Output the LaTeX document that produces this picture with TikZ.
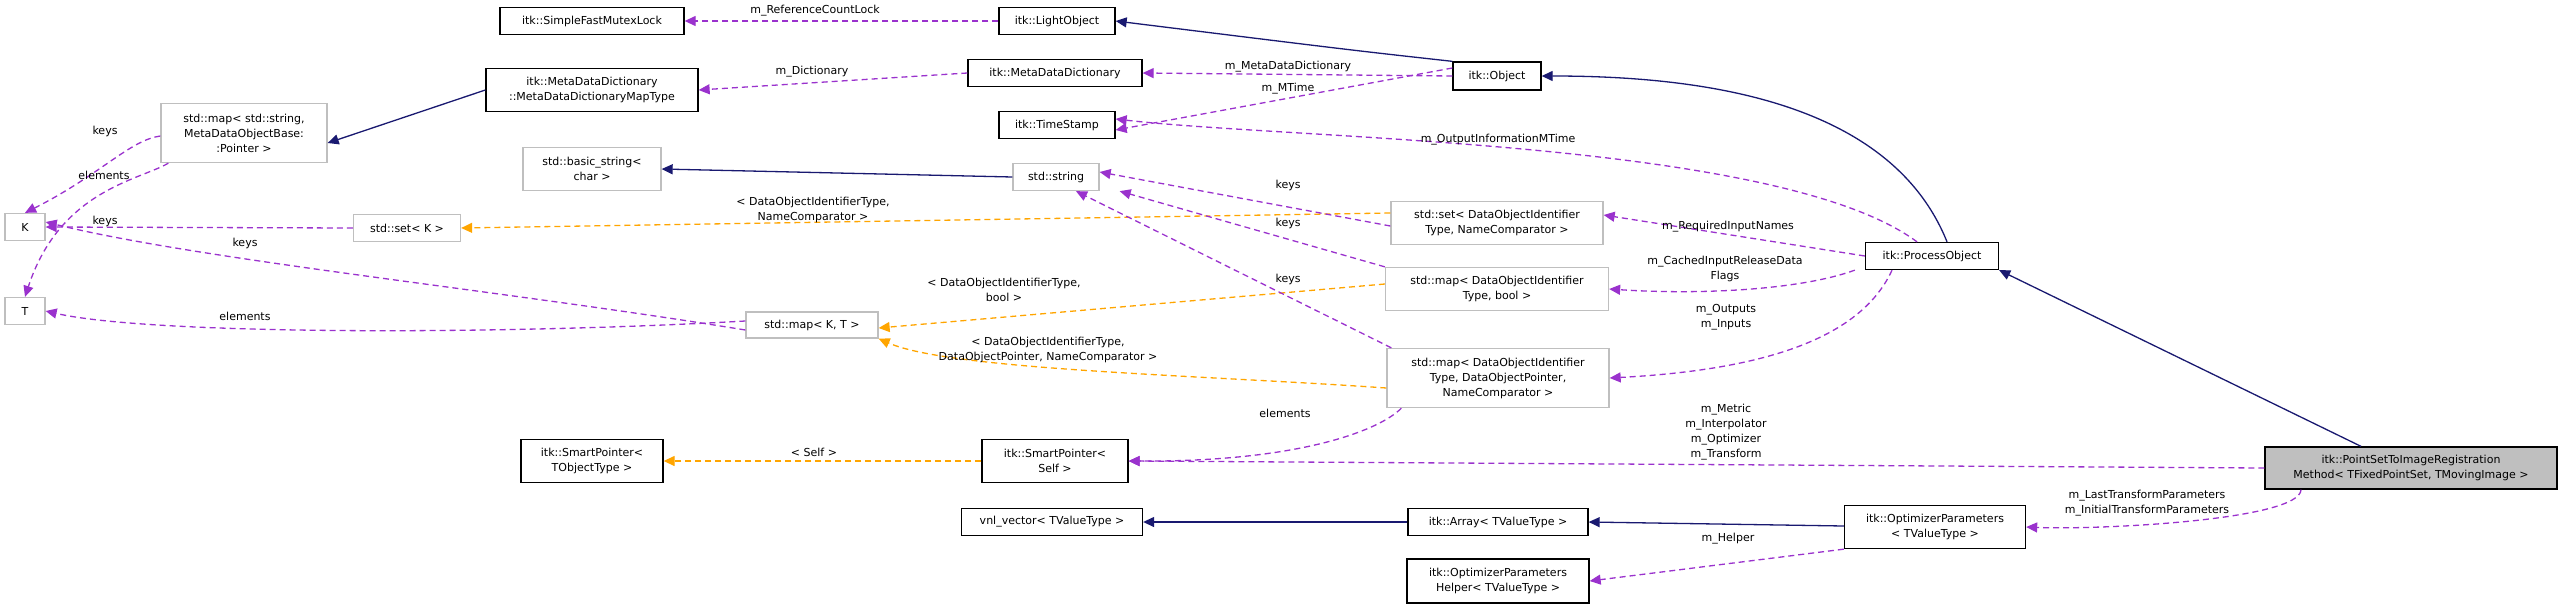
\documentclass[tikz,border=0pt]{standalone}
\usepackage{fontspec}
\setmainfont{DejaVu Sans}
\usetikzlibrary{arrows.meta,shapes}

\definecolor{usecol}{HTML}{9A32CD}
\definecolor{inhcol}{HTML}{191970}
\definecolor{tplcol}{HTML}{FFA500}
\definecolor{greybox}{HTML}{BFBFBF}

\tikzset{
  cls/.style={draw=black,line width=1.3pt,inner sep=0pt,align=center,font=\fontsize{11}{15}\selectfont},
  ext/.style={cls,draw=greybox},
  uses/.style={draw=usecol,dashed,dash pattern=on 6pt off 4pt,line width=1.3pt,-{Triangle[length=11pt,width=10pt]}},
  isa/.style={draw=inhcol,line width=1.3pt,-{Triangle[length=11pt,width=10pt]}},
  tpl/.style={draw=tplcol,dashed,dash pattern=on 6pt off 4pt,line width=1.3pt,-{Triangle[length=11pt,width=10pt]}},
  lbl/.style={align=center,font=\fontsize{11}{15}\selectfont,inner sep=0pt},
}

\begin{document}
\begin{tikzpicture}[x=1pt,y=-1pt]
\useasboundingbox (0,0) rectangle (2563,608);

% Node: classes
\node[cls,minimum width=184,minimum height=27] (mutex) at (592,21) {itk::SimpleFastMutexLock};
\node[cls,minimum width=116,minimum height=27] (light) at (1057,21) {itk::LightObject};
\node[cls,minimum width=212,minimum height=43] (mdmap) at (592,90) {itk::MetaDataDictionary\\::MetaDataDictionaryMapType};
\node[cls,minimum width=174,minimum height=27] (mdd) at (1055,73) {itk::MetaDataDictionary};
\node[cls,minimum width=88,minimum height=28] (obj) at (1497,76) {itk::Object};
\node[cls,minimum width=116,minimum height=27] (stamp) at (1057,125) {itk::TimeStamp};
\node[ext,minimum width=166,minimum height=59] (strmap) at (244,133) {std::map< std::string,\\MetaDataObjectBase:\\:Pointer >};
\node[ext,minimum width=138,minimum height=43] (bstr) at (592,169) {std::basic\_string<\\char >};
\node[ext,minimum width=86,minimum height=27] (str) at (1056,177) {std::string};
\node[ext,minimum width=40,minimum height=27] (K) at (25,227) {K};
\node[ext,minimum width=40,minimum height=27] (T) at (25,311) {T};
\node[ext,minimum width=107,minimum height=27] (setK) at (407,228) {std::set< K >};
\node[ext,minimum width=212,minimum height=43] (setDO) at (1497,223) {std::set< DataObjectIdentifier\\Type, NameComparator >};
\node[cls,minimum width=133,minimum height=27] (proc) at (1932,256) {itk::ProcessObject};
\node[ext,minimum width=132,minimum height=26] (mapKT) at (812,325) {std::map< K, T >};
\node[ext,minimum width=223,minimum height=43] (mapbool) at (1497,289) {std::map< DataObjectIdentifier\\Type, bool >};
\node[ext,minimum width=222,minimum height=59] (mapptr) at (1498,378) {std::map< DataObjectIdentifier\\Type, DataObjectPointer,\\NameComparator >};
\node[cls,minimum width=142,minimum height=43] (sptr) at (592,461) {itk::SmartPointer<\\TObjectType >};
\node[cls,minimum width=146,minimum height=43] (sself) at (1055,461) {itk::SmartPointer<\\Self >};
\node[cls,minimum width=181,minimum height=27] (vnl) at (1052,522) {vnl\_vector< TValueType >};
\node[cls,minimum width=180,minimum height=27] (arr) at (1498,522) {itk::Array< TValueType >};
\node[cls,minimum width=181,minimum height=43] (opt) at (1935,527) {itk::OptimizerParameters\\< TValueType >};
\node[cls,minimum width=182,minimum height=44] (helper) at (1498,581) {itk::OptimizerParameters\\Helper< TValueType >};
\node[cls,fill=greybox,minimum width=292,minimum height=42] (reg) at (2411,468) {itk::PointSetToImageRegistration\\Method< TFixedPointSet, TMovingImage >};

% Edge: light -> mutex
\draw[uses] (light.west) -- (mutex.east);
\node[lbl] (l1) at (815,11) {m\_ReferenceCountLock};

% Edge: obj -> light
\draw[isa] (obj.north west) .. controls (1350,50) .. (light.east);

% Edge: obj -> mdd, obj -> stamp
\draw[uses] (obj.west) -- (mdd.east);
\node[lbl] (l2) at (1288,67) {m\_MetaDataDictionary};
\draw[uses] ([yshift=8]obj.west) -- ([yshift=-5]stamp.east);
\node[lbl] (l3) at (1288,89) {m\_MTime};

% Edge: mdd -> mdmap
\draw[uses] (mdd.west) -- (mdmap.east);
\node[lbl] (l4) at (812,72) {m\_Dictionary};

% Edge: mdmap -> strmap
\draw[isa] (mdmap.west) -- ([yshift=-10]strmap.east);

% Edge: strmap -> K, strmap -> T
\draw[uses] ([yshift=-3]strmap.west) .. controls (130,140) and (100,175) .. (K.north);
\node[lbl] (l5) at (105,131) {keys};
\draw[uses] (strmap.south west) ++(8,0) .. controls (140,180) and (60,190) .. (T.north);
\node[lbl] (l6) at (104,175) {elements};

% Edge: str -> bstr
\draw[isa] (str.west) -- (bstr.east);

% Edge: setK -> K, mapKT -> K, mapKT -> T
\draw[uses] (setK.west) -- (K.east);
\node[lbl] (l7) at (105,221) {keys};
\draw[uses] ([yshift=-5]mapKT.west) .. controls (500,290) and (200,260) .. ([yshift=5]K.east);
\node[lbl] (l8) at (245,243) {keys};
\draw[uses] ([yshift=4]mapKT.west) .. controls (500,335) and (150,335) .. (T.east);
\node[lbl] (l9) at (245,316) {elements};

% Edge: setDO -> setK, setDO -> str
\draw[tpl] ([yshift=10]setDO.west) -- (setK.east);
\node[lbl] (l10) at (813,210) {< DataObjectIdentifierType,\\NameComparator >};
\draw[uses] ([yshift=-3]setDO.west) -- ([yshift=5]str.east);
\node[lbl] (l11) at (1288,185) {keys};

% Edge: mapbool -> str, mapbool -> mapKT
\draw[uses] (mapbool.north west) -- ([xshift=20]str.south east);
\node[lbl] (l12) at (1288,223) {keys};
\draw[tpl] ([yshift=5]mapbool.west) -- ([yshift=-3]mapKT.east);
\node[lbl] (l13) at (1004,290) {< DataObjectIdentifierType,\\bool >};

% Edge: mapptr -> str, mapptr -> mapKT, mapptr -> sself
\draw[uses] ([xshift=5]mapptr.north west) -- ([xshift=20]str.south);
\node[lbl] (l14) at (1288,279) {keys};
\draw[tpl] ([yshift=-10]mapptr.west) .. controls (1200,375) and (950,370) .. (mapKT.south east);
\node[lbl] (l15) at (1048,350) {< DataObjectIdentifierType,\\DataObjectPointer, NameComparator >};
\draw[uses] ([xshift=15]mapptr.south west) .. controls (1380,430) and (1300,462) .. (sself.east);
\node[lbl] (l16) at (1285,413) {elements};

% Edge: proc -> obj, proc -> stamp, proc -> setDO, proc -> mapbool, proc -> mapptr
\draw[isa] ([xshift=15]proc.north) .. controls (1890,100) and (1700,76) .. (obj.east);
\draw[uses] ([xshift=-15]proc.north) .. controls (1780,140) and (1300,140) .. ([yshift=6]stamp.east);
\node[lbl] (l17) at (1498,140) {m\_OutputInformationMTime};
\draw[uses] (proc.west) -- ([yshift=8]setDO.east);
\node[lbl] (l18) at (1728,227) {m\_RequiredInputNames};
\draw[uses] ([xshift=-10]proc.south west) .. controls (1800,290) and (1700,295) .. (mapbool.east);
\node[lbl] (l19) at (1725,269) {m\_CachedInputReleaseData\\Flags};
\draw[uses] ([xshift=-40]proc.south) .. controls (1860,340) and (1760,370) .. (mapptr.east);
\node[lbl] (l20) at (1726,317) {m\_Outputs\\m\_Inputs};

% Edge: sself -> sptr
\draw[tpl] (sself.west) -- (sptr.east);
\node[lbl] (l21) at (814,452) {< Self >};

% Edge: reg -> proc, reg -> sself, reg -> opt
\draw[isa] ([xshift=-50]reg.north) -- (proc.south east);
\draw[uses] (reg.west) -- (sself.east);
\node[lbl] (l22) at (1726,432) {m\_Metric\\m\_Interpolator\\m\_Optimizer\\m\_Transform};
\draw[uses] ([xshift=-110]reg.south) .. controls (2300,520) and (2100,530) .. (opt.east);
\node[lbl] (l23) at (2147,503) {m\_LastTransformParameters\\m\_InitialTransformParameters};

% Edge: arr -> vnl, opt -> arr, opt -> helper
\draw[isa] (arr.west) -- (vnl.east);
\draw[isa] ([yshift=1]opt.west) -- (arr.east);
\draw[uses] (opt.south west) -- (helper.east);
\node[lbl] (l24) at (1728,539) {m\_Helper};
\end{tikzpicture}
\end{document}
